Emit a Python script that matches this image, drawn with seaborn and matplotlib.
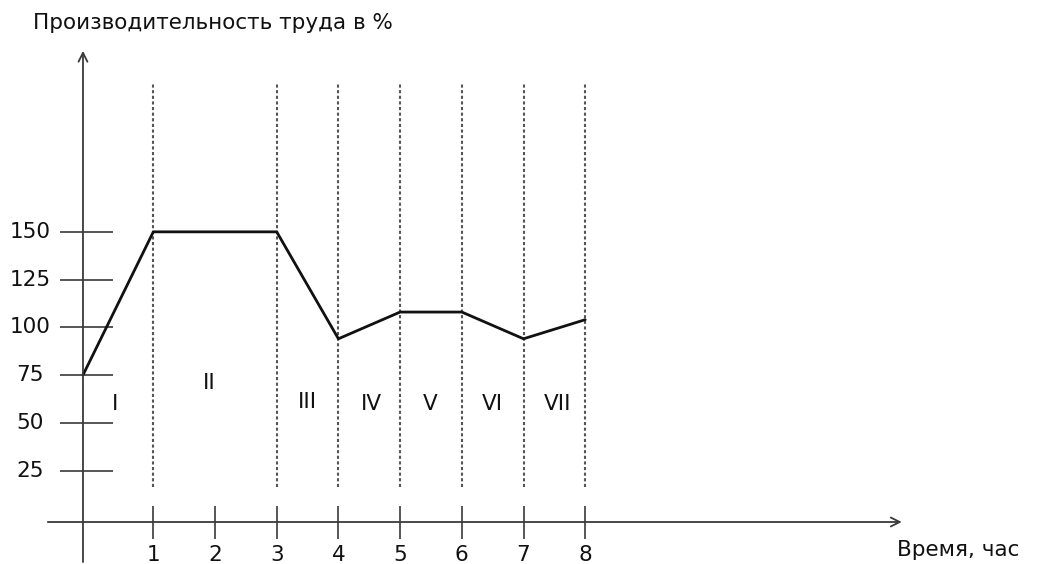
import matplotlib
matplotlib.use("Agg")
import matplotlib.pyplot as plt
import seaborn as sns
import pandas as pd

# ---- data ----
time_h = [-0.14, 1, 3, 4, 5, 6, 7, 8]            # hours (first point sits on the y-axis)
productivity = [75, 150, 150, 94, 108, 108, 94, 104]  # %
y_ticks = [25, 50, 75, 100, 125, 150]
x_ticks = [1, 2, 3, 4, 5, 6, 7, 8]
boundaries = [1, 3, 4, 5, 6, 7, 8]
phase_labels = ["I", "II", "III", "IV", "V", "VI", "VII"]
phase_x = [0.38, 1.90, 3.49, 4.54, 5.48, 6.50, 7.56]
phase_y = [60, 71, 61, 60, 60, 60, 60]
title = "Производительность труда в %"
xlabel = "Время, час"

sns.set_theme(style="white")
plt.rcParams['font.family'] = ['DejaVu Sans']

fig = plt.figure(figsize=(10.4, 5.64), dpi=100)
ax = fig.add_axes([0, 0, 1, 1])
ax.set_xlim(-1.485, 15.371)
ax.set_ylim(-23.93, 271.4)
ax.axis('off')

axis_color = "#3a3a3a"
fs = 15.5

# axes with arrows
ax.annotate('', xy=(-0.14, 244.8), xytext=(-0.14, -22.9),
            arrowprops=dict(arrowstyle='->', lw=1.3, color=axis_color, mutation_scale=16,
                            shrinkA=0, shrinkB=0))
ax.annotate('', xy=(13.13, -1.94), xytext=(-0.71, -1.94),
            arrowprops=dict(arrowstyle='->', lw=1.3, color=axis_color, mutation_scale=16,
                            shrinkA=0, shrinkB=0))

# y tick marks and labels
for v in y_ticks:
    ax.plot([-0.51, 0.35], [v, v], color=axis_color, lw=1.2, solid_capstyle='butt')
    ax.text(-1.0, v, str(v), ha='center', va='center', fontsize=fs, color='#111111')

# x tick marks and labels
for h in x_ticks:
    ax.plot([h, h], [6.4, -10.8], color=axis_color, lw=1.2, solid_capstyle='butt')
    ax.text(h, -13.8, str(h), ha='center', va='top', fontsize=fs, color='#111111')

# dotted phase boundaries
for b in boundaries:
    ax.plot([b, b], [16.4, 227.9], color="#555555", lw=1.5, linestyle=(0, (1.5, 1.2)))

# productivity curve
df = pd.DataFrame({"time": time_h, "prod": productivity})
sns.lineplot(data=df, x="time", y="prod", ax=ax, color="#111111", linewidth=2.0,
             sort=False, estimator=None)

# phase labels
for lab, px, py in zip(phase_labels, phase_x, phase_y):
    ax.text(px, py, lab, ha='center', va='center', fontsize=fs, color='#111111')

# titles
ax.text(-0.95, 256.2, title, ha='left', va='baseline', fontsize=fs, color='#111111')
ax.text(13.05, -19.7, xlabel, ha='left', va='baseline', fontsize=fs, color='#111111')

ax.set_xlabel("")
ax.set_ylabel("")
fig.savefig("out.png", dpi=100)
